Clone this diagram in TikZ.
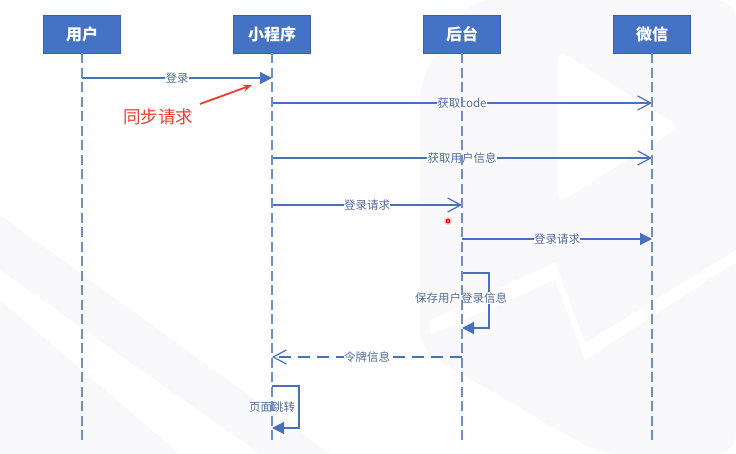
\documentclass[tikz,border=0pt]{standalone}
\usepackage{fontspec}
\setmainfont{Noto Sans CJK SC}
\usetikzlibrary{arrows.meta}
\definecolor{boxblue}{HTML}{4472C4}
\definecolor{linec}{HTML}{4A70BC}
\definecolor{lifec}{HTML}{6F8ECB}
\definecolor{txtc}{HTML}{516A98}
\definecolor{redc}{HTML}{EE3B32}
\definecolor{wm}{HTML}{F9F9FB}
\tikzset{
  actor/.style={draw=boxblue!85!black, line width=0.5pt, fill=boxblue, text=white, minimum width=77pt, minimum height=38pt, inner sep=0pt, font=\fontsize{16}{16}\selectfont\bfseries},
  life/.style={draw=lifec, line width=1.4pt, dash pattern=on 10pt off 4.5pt},
  msg/.style={draw=linec, line width=1.2pt},
  open/.style={-{Straight Barb[length=13pt,width=14pt,line width=1.2pt]}},
  solid tip/.style={-{Triangle[length=12pt,width=12pt]}},
  lbl/.style={fill=white, text=txtc, inner sep=0.3pt, font=\fontsize{11.5}{11.5}\selectfont},
  rednote/.style={text=redc, font=\fontsize{17.5}{17.5}\selectfont},
}
\begin{document}
\begin{tikzpicture}[x=1pt,y=-1pt]
\useasboundingbox (0,0) rectangle (736,454);
\fill[white] (0,0) rectangle (736,454);
% faint background watermark
\fill[wm, rounded corners=20pt] (470,0) -- (736,0) -- (736,454) -- (600,454) -- (420,350) -- (420,80) -- cycle;
\fill[white, rounded corners=10pt] (558,50) -- (680,127) -- (558,203) -- cycle;
\fill[white] (430,320) -- (555,262) -- (585,343) -- (736,250) -- (736,262) -- (585,360) -- (555,280) -- (430,335) -- cycle;
\fill[wm] (0,300) -- (180,454) -- (0,454) -- cycle;
\fill[wm] (0,215) -- (330,454) -- (260,454) -- (0,270) -- cycle;

% actors
\node[actor] (u) at (82,34) {用户};
\node[actor] (p) at (272,34) {小程序};
\node[actor] (b) at (462,34) {后台};
\node[actor] (w) at (652,34) {微信};
\coordinate (ue) at (82,440);
\coordinate (pe) at (272,440);
\coordinate (be) at (462,440);
\coordinate (we) at (652,440);

% message anchor points
\coordinate (m1a) at (82,78);   \coordinate (m1b) at (272,78);
\coordinate (m2a) at (272,103); \coordinate (m2b) at (652,103);
\coordinate (m3a) at (272,158); \coordinate (m3b) at (652,158);
\coordinate (m4a) at (272,205); \coordinate (m4b) at (462,205);
\coordinate (m5a) at (462,239); \coordinate (m5b) at (652,239);
\coordinate (s1a) at (462,273); \coordinate (s1b) at (462,328);
\coordinate (m6a) at (462,357); \coordinate (m6b) at (272,357);
\coordinate (s2a) at (272,386); \coordinate (s2b) at (272,428);

\draw[msg,solid tip] (m1a) -- node[lbl]{登录} (m1b);
\draw[msg,open] (m2a) -- node[lbl]{获取code} (m2b);
\draw[msg,open] (m3a) -- node[lbl]{获取用户信息} (m3b);
\draw[msg,open] (m4a) -- node[lbl]{登录请求} (m4b);
\draw[msg,solid tip] (m5a) -- node[lbl]{登录请求} (m5b);
\draw[msg,solid tip] (s1a) -- ++(27,0) |- (s1b);
\node[lbl] (s1l) at (461,298) {保存用户登录信息};
\draw[msg,open,dash pattern=on 12pt off 7pt] (m6a) -- node[lbl]{令牌信息} (m6b);
\draw[msg,solid tip] (s2a) -- ++(27,0) |- (s2b);
\node[lbl] (s2l) at (272,407) {页面跳转};

% lifelines on top
\draw[life] (u.south) -- (ue);
\draw[life] (p.south) -- (pe);
\draw[life] (b.south) -- (be);
\draw[life] (w.south) -- (we);

% annotation
\node[rednote] (note) at (158,117) {同步请求};
\coordinate (na) at (200,104);
\coordinate (nb) at (252,85);
\draw[redc, line width=1.8pt, -{Stealth[length=9pt,width=7pt]}] (na) -- (nb);
\fill[redc!20] (448,221) circle (4.5pt);
\fill[red] (448,221) circle (2.4pt);
\fill[white] (448,221) circle (0.9pt);
\end{tikzpicture}
\end{document}
